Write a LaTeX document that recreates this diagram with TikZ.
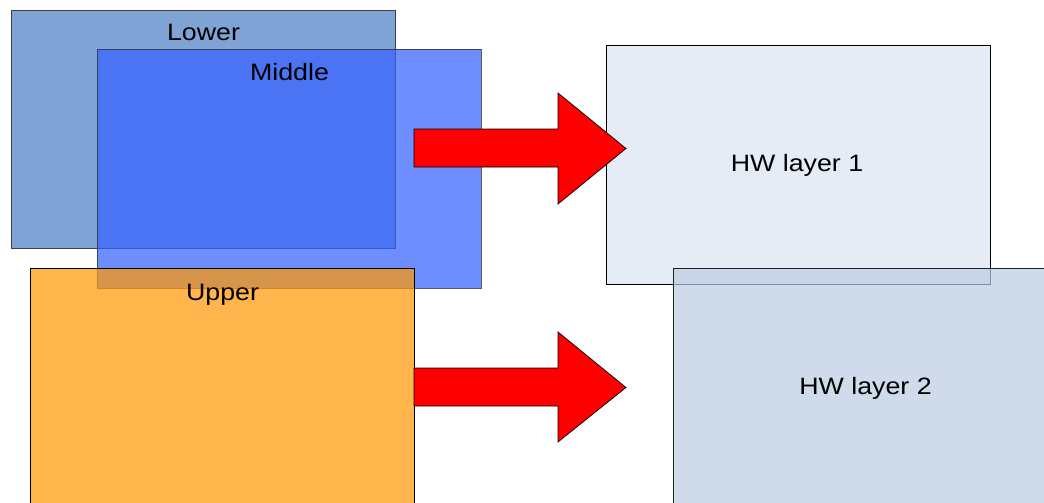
\documentclass[tikz,border=0pt]{standalone}
\usepackage{fontspec}
\setmainfont{Liberation Sans}
\usepackage{graphicx}
\definecolor{lowerc}{RGB}{127,163,212}
\definecolor{middlec}{RGB}{54,99,255}
\definecolor{upperc}{RGB}{255,152,6}
\definecolor{hwonec}{RGB}{229,236,246}
\definecolor{hwtwoc}{RGB}{186,204,226}
\tikzset{
  box/.style={draw=black, line width=0.8pt, inner sep=0pt, outer sep=0pt, anchor=north west},
  lbl/.style={anchor=base, inner sep=0pt, font=\fontsize{23.7}{28}\selectfont},
  blockarrow/.style={draw=black, line width=0.7pt, fill=red, line join=miter}
}
\newcommand{\wlabel}[1]{\scalebox{1.13}[1]{#1}}
\begin{document}
\begin{tikzpicture}[x=1pt,y=-1pt]
\useasboundingbox (0,0) rectangle (1044,503);
\begin{scope}
\clip (0,0) rectangle (1044,503);
% left stack
\node[box, draw=black!75, fill=lowerc, minimum width=384pt, minimum height=238pt] (lower) at (11,10) {};
\node[box, draw=black!80, fill=middlec, fill opacity=0.72, draw opacity=0.8, minimum width=384pt, minimum height=239pt] (middle) at (97,49) {};
\node[box, fill=upperc, fill opacity=0.72, minimum width=384pt, minimum height=260pt] (upper) at (30,268) {};
% right stack
\node[box, fill=hwonec, minimum width=384pt, minimum height=239pt] (hwone) at (606,45) {};
\node[box, fill=hwtwoc, fill opacity=0.7, draw opacity=0.85, minimum width=400pt, minimum height=260pt] (hwtwo) at (673,268) {};
% labels
\node[lbl] (lowerlbl) at (203.5,41) {\wlabel{Lower}};
\node[lbl] (middlelbl) at (289.5,81) {\wlabel{Middle}};
\node[lbl] (upperlbl) at (222.5,300) {\wlabel{Upper}};
\node[lbl] (hwonelbl) at (797,171) {\wlabel{HW layer 1}};
\node[lbl] (hwtwolbl) at (865.5,394) {\wlabel{HW layer 2}};
% block arrows
\draw[blockarrow] (414,129) -- (558,129) -- (558,93) -- (626,148.5) -- (558,204) -- (558,167) -- (414,167) -- cycle;
\draw[blockarrow] (414,368) -- (558,368) -- (558,332) -- (626,387.5) -- (558,442) -- (558,406) -- (414,406) -- cycle;
\end{scope}
\end{tikzpicture}
\end{document}
